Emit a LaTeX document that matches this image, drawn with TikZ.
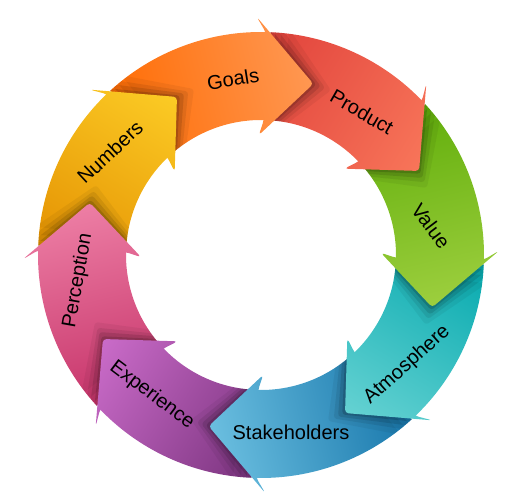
\documentclass[tikz,border=0pt]{standalone}
\usepackage{fontspec}
\setmainfont{Liberation Sans}
\definecolor{t0}{HTML}{FF6A00}\definecolor{h0}{HTML}{FF9E5E}
\definecolor{t1}{HTML}{E0403A}\definecolor{h1}{HTML}{FB7D5E}
\definecolor{t2}{HTML}{5EAC08}\definecolor{h2}{HTML}{A6D446}
\definecolor{t3}{HTML}{00A7AC}\definecolor{h3}{HTML}{74D8D8}
\definecolor{t4}{HTML}{1272A8}\definecolor{h4}{HTML}{78CAE8}
\definecolor{t5}{HTML}{76307A}\definecolor{h5}{HTML}{D674D4}
\definecolor{t6}{HTML}{C42F66}\definecolor{h6}{HTML}{F38AAE}
\definecolor{t7}{HTML}{E38E00}\definecolor{h7}{HTML}{FFD42A}
\tikzset{
  lbl/.style={font=\fontsize{20}{20}\selectfont, text=black, inner sep=0pt, anchor=center},
}
\begin{document}
\begin{tikzpicture}[x=1pt,y=1pt]
\useasboundingbox (0,0) rectangle (523,500);
\def\rin{135}\def\rout{223}\def\rmid{179}\def\ri{120}\def\ro{238}
\begin{scope}[shift={(261,245)}]
 % bodies
 \foreach \k in {0,...,7}{
  \pgfmathsetmacro\b{91-45*\k}
  \pgfmathsetmacro\s{\b+41.5}
  \pgfmathsetmacro\e{\b-3}
  \pgfmathsetmacro\m{\b+12.5}
  \pgfmathsetmacro\sa{\m-180}
  \begin{scope}
   \clip (\s:\rout) arc[start angle=\s,end angle=\e,radius=\rout] -- (\e:\rin) arc[start angle=\e,end angle=\s,radius=\rin] -- cycle;
   \shade[bottom color=t\k, top color=h\k, shading angle=\sa] (\m:\rmid) circle[radius=122];
  \end{scope}
 }
 % shadows of the heads
 \begin{scope}[even odd rule]
  \clip (0,0) circle[radius=\rout] (0,0) circle[radius=\rin];
  \foreach \k in {0,...,7}{
   \pgfmathsetmacro\b{91-45*\k}
   \pgfmathsetmacro\e{\b-2.2}
   \pgfmathsetmacro\tp{\b-18}
   \foreach \r/\o in {-1/0.14,-2.5/0.11,-4/0.08,-6/0.05}{
     \fill[black, opacity=\o, rotate=\r, rounded corners=3] (\e:\rout) -- (\b:\ro) -- (\tp:\rmid) -- (\b:\ri) -- (\e:\rin) -- cycle;
   }
  }
 \end{scope}
 % heads
 \foreach \k in {0,...,7}{
  \pgfmathsetmacro\b{91-45*\k}
  \pgfmathsetmacro\e{\b-2.2}
  \pgfmathsetmacro\tp{\b-18}
  \pgfmathsetmacro\m{\b+12.5}
  \pgfmathsetmacro\sa{\m-180}
  \begin{scope}[rounded corners=3.5]
   \clip (\e:\rout) -- (\b:\ro) -- (\tp:\rmid) -- (\b:\ri) -- (\e:\rin) -- cycle;
   \shade[bottom color=t\k, top color=h\k, shading angle=\sa] (\m:\rmid) circle[radius=122];
  \end{scope}
 }
\end{scope}
\node[lbl, rotate=9]   (goals) at (233,421) {Goals};
\node[lbl, rotate=-30] (product) at (362,388) {Product};
\node[lbl, rotate=-53] (value) at (431,274) {Value};
\node[lbl, rotate=42]  (atmo) at (407,135) {Atmosphere};
\node[lbl, rotate=0]   (stake) at (291,68) {Stakeholders};
\node[lbl, rotate=-37] (exp) at (152,105) {Experience};
\node[lbl, rotate=80]  (perc) at (78,219) {Perception};
\node[lbl, rotate=43]  (num) at (110,348) {Numbers};
\end{tikzpicture}
\end{document}
